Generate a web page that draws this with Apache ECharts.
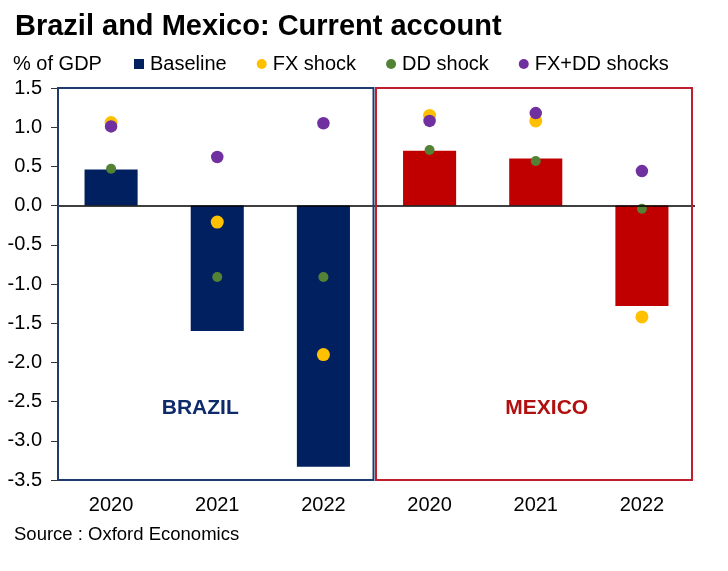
<!DOCTYPE html>
<html>
<head>
<meta charset="utf-8">
<script src="https://cdn.jsdelivr.net/npm/echarts@6/dist/echarts.min.js"></script>
<style>
html,body{margin:0;padding:0;background:#fff;}
#chart{width:728px;height:571px;}
</style>
</head>
<body>
<div id="chart"></div>
<script>
// ---- Data ----
const categories = ['2020', '2021', '2022', '2020', '2021', '2022'];
const countries = ['BRAZIL', 'MEXICO'];
const baseline = [0.46, -1.60, -3.33, 0.70, 0.60, -1.28];
const fxShock = [1.06, -0.21, -1.90, 1.15, 1.08, -1.42];
const ddShock = [0.47, -0.91, -0.91, 0.71, 0.57, -0.04];
const fxddShocks = [1.01, 0.62, 1.05, 1.08, 1.18, 0.44];
const yTicks = [1.5, 1.0, 0.5, 0.0, -0.5, -1.0, -1.5, -2.0, -2.5, -3.0, -3.5];

const NAVY = '#002060';
const RED = '#C00000';
const FONT = 'Liberation Sans, Arial, sans-serif';

const chart = echarts.init(document.getElementById('chart'), null, {renderer: 'canvas'});

const option = {
  backgroundColor: '#ffffff',
  animation: false,
  textStyle: {fontFamily: FONT},
  title: {
    text: 'Brazil and Mexico: Current account',
    left: 10, top: 7,
    textStyle: {fontFamily: FONT, fontSize: 29, fontWeight: 'bold', color: '#000'}
  },
  legend: {
    left: 134, top: 54, padding: 0,
    itemWidth: 10, itemHeight: 10, itemGap: 30,
    textStyle: {fontFamily: FONT, fontSize: 20, color: '#000', padding: [0, 0, 0, 1]},
    data: [
      {name: 'Baseline', icon: 'rect'},
      {name: 'FX shock', icon: 'circle'},
      {name: 'DD shock', icon: 'circle'},
      {name: 'FX+DD shocks', icon: 'circle'}
    ]
  },
  grid: {left: 58, right: 33, top: 88, bottom: 91, containLabel: false},
  xAxis: {
    type: 'category',
    data: categories,
    axisLine: {show: false},
    axisTick: {show: false},
    axisLabel: {fontFamily: FONT, fontSize: 20, color: '#000', margin: 15},
    splitLine: {show: false}
  },
  yAxis: {
    type: 'value',
    min: -3.5, max: 1.5, interval: 0.5,
    axisLine: {show: false},
    axisTick: {show: true, inside: false, length: 7, lineStyle: {color: '#333', width: 1}},
    axisLabel: {
      fontFamily: FONT, fontSize: 20, color: '#000', margin: 16,
      formatter: v => v.toFixed(1)
    },
    splitLine: {show: false}
  },
  series: [
    {
      name: 'Baseline', type: 'bar', barWidth: '50%',
      itemStyle: {color: NAVY},
      data: baseline.map((v, i) => ({value: v, itemStyle: {color: i < 3 ? NAVY : RED}})),
      markLine: {
        silent: true, symbol: 'none', label: {show: false},
        lineStyle: {color: '#000', width: 1.5, type: 'solid'},
        data: [{yAxis: 0}]
      },
      z: 2
    },
    {name: 'FX shock', type: 'scatter', symbolSize: 13, itemStyle: {color: '#FFC000', opacity: 1}, data: fxShock, z: 3},
    {name: 'DD shock', type: 'scatter', symbolSize: 10, itemStyle: {color: '#548235', opacity: 1}, data: ddShock, z: 4},
    {name: 'FX+DD shocks', type: 'scatter', symbolSize: 12.5, itemStyle: {color: '#7030A0', opacity: 1}, data: fxddShocks, z: 5}
  ]
};
chart.setOption(option);

// Boxes and region labels positioned through the chart's scales
const c0 = chart.convertToPixel({xAxisIndex: 0}, 0);
const c1 = chart.convertToPixel({xAxisIndex: 0}, 1);
const c2 = chart.convertToPixel({xAxisIndex: 0}, 2);
const c3 = chart.convertToPixel({xAxisIndex: 0}, 3);
const c4 = chart.convertToPixel({xAxisIndex: 0}, 4);
const c5 = chart.convertToPixel({xAxisIndex: 0}, 5);
const band = c1 - c0;
const yTop = chart.convertToPixel({yAxisIndex: 0}, yTicks[0]);
const yBot = chart.convertToPixel({yAxisIndex: 0}, yTicks[yTicks.length - 1]);
const yLab = chart.convertToPixel({yAxisIndex: 0}, -2.58);
const bxL = c0 - band / 2, bxR = (c2 + c3) / 2 - 3;
const mxL = (c2 + c3) / 2 - 0.5, mxR = c5 + band / 2 - 3;

chart.setOption({
  graphic: [
    {type: 'rect', shape: {x: bxL, y: yTop, width: bxR - bxL, height: yBot - yTop},
     style: {fill: null, stroke: '#1F3A6E', lineWidth: 2}, z: 10, silent: true},
    {type: 'rect', shape: {x: mxL, y: yTop, width: mxR - mxL, height: yBot - yTop},
     style: {fill: null, stroke: '#BE1E2D', lineWidth: 2}, z: 10, silent: true},
    {type: 'text', x: c1 - 17, y: yLab, style: {text: countries[0], fill: '#0E2A6A',
      font: 'bold 21px ' + FONT, textAlign: 'center', textVerticalAlign: 'middle'}, z: 11},
    {type: 'text', x: c4 + 11, y: yLab, style: {text: countries[1], fill: '#B01010',
      font: 'bold 21px ' + FONT, textAlign: 'center', textVerticalAlign: 'middle'}, z: 11},
    {type: 'text', x: 13, y: 64, style: {text: '% of GDP', fill: '#000',
      font: '20px ' + FONT, textAlign: 'left', textVerticalAlign: 'middle'}, z: 11},
    {type: 'text', x: 14, y: 535, style: {text: 'Source : Oxford Economics', fill: '#000',
      font: '18.5px ' + FONT, textAlign: 'left', textVerticalAlign: 'middle'}, z: 11}
  ]
});
</script>
</body>
</html>
